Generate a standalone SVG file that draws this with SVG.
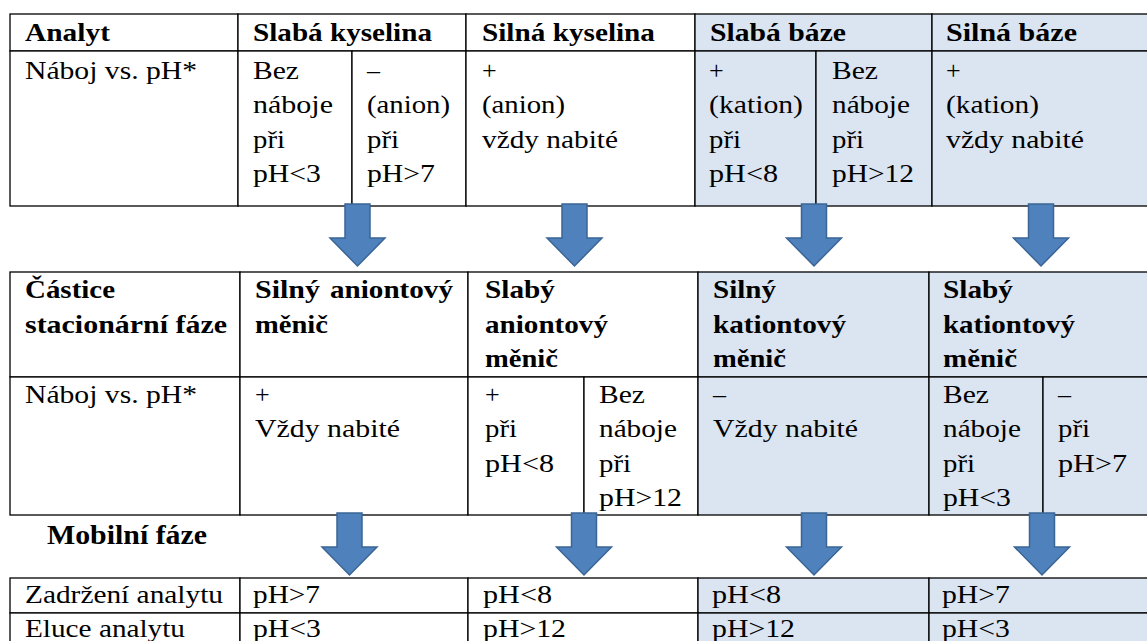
<svg xmlns="http://www.w3.org/2000/svg" xmlns:xlink="http://www.w3.org/1999/xlink" width="1147" height="641" viewBox="0 0 1147 641">
<style>
.w{fill:#ffffff;stroke:#000;stroke-width:1.3}
.b{fill:#DBE5F1;stroke:#000;stroke-width:1.3}
.tx text{font-family:"Liberation Serif","Tinos","Nimbus Roman","Noto Serif","DejaVu Serif","FreeSerif","Times New Roman",Times,serif;font-size:26px;fill:#000}
.tx text.h{font-weight:bold;font-size:25px}
.tx text.m{font-weight:bold;font-size:28px}
.arr{fill:#4F81BD;stroke:#3A6595;stroke-width:1.5}
</style>
<defs>
<path id="arrow" class="arr" d="M-12.5,0 H12.5 V34 H27.5 L0,62 L-27.5,34 H-12.5 Z"/>
</defs>
<rect width="1147" height="641" fill="#ffffff"/>
<g class="tx">

<!-- Table 1 -->
<g id="t1-analyt"><rect class="w" x="10" y="14" width="228" height="37"/><text class="h" x="25" y="41" textLength="85" lengthAdjust="spacingAndGlyphs">Analyt</text></g>
<g id="t1-slaba-kyselina"><rect class="w" x="238" y="14" width="228" height="37"/><text class="h" x="253" y="41" textLength="179" lengthAdjust="spacingAndGlyphs">Slabá kyselina</text></g>
<g id="t1-silna-kyselina"><rect class="w" x="466" y="14" width="229" height="37"/><text class="h" x="482" y="41" textLength="173" lengthAdjust="spacingAndGlyphs">Silná kyselina</text></g>
<g id="t1-slaba-baze"><rect class="b" x="695" y="14" width="237" height="37"/><text class="h" x="710" y="41" textLength="136" lengthAdjust="spacingAndGlyphs">Slabá báze</text></g>
<g id="t1-silna-baze"><rect class="b" x="932" y="14" width="220" height="37"/><text class="h" x="946" y="41" textLength="131" lengthAdjust="spacingAndGlyphs">Silná báze</text></g>

<g id="t1-naboj"><rect class="w" x="10" y="51" width="228" height="155"/><text x="25" y="79" textLength="172" lengthAdjust="spacingAndGlyphs">Náboj vs. pH*</text></g>
<g id="t1-c1"><rect class="w" x="238" y="51" width="114" height="155"/>
<text x="253" y="79" textLength="46" lengthAdjust="spacingAndGlyphs">Bez</text>
<text x="253" y="113" textLength="80" lengthAdjust="spacingAndGlyphs">náboje</text>
<text x="253" y="148" textLength="32" lengthAdjust="spacingAndGlyphs">při</text>
<text x="253" y="182" textLength="68" lengthAdjust="spacingAndGlyphs">pH&lt;3</text></g>
<g id="t1-c2"><rect class="w" x="352" y="51" width="114" height="155"/>
<text x="367" y="79">–</text>
<text x="367" y="113" textLength="83" lengthAdjust="spacingAndGlyphs">(anion)</text>
<text x="367" y="148" textLength="32" lengthAdjust="spacingAndGlyphs">při</text>
<text x="367" y="182" textLength="68" lengthAdjust="spacingAndGlyphs">pH&gt;7</text></g>
<g id="t1-c3"><rect class="w" x="466" y="51" width="229" height="155"/>
<text x="482" y="79">+</text>
<text x="482" y="113" textLength="83" lengthAdjust="spacingAndGlyphs">(anion)</text>
<text x="482" y="148" textLength="136" lengthAdjust="spacingAndGlyphs">vždy nabité</text></g>
<g id="t1-c4"><rect class="b" x="695" y="51" width="121" height="155"/>
<text x="709" y="79">+</text>
<text x="709" y="113" textLength="94" lengthAdjust="spacingAndGlyphs">(kation)</text>
<text x="709" y="148" textLength="32" lengthAdjust="spacingAndGlyphs">při</text>
<text x="709" y="182" textLength="69" lengthAdjust="spacingAndGlyphs">pH&lt;8</text></g>
<g id="t1-c5"><rect class="b" x="816" y="51" width="116" height="155"/>
<text x="832" y="79" textLength="46" lengthAdjust="spacingAndGlyphs">Bez</text>
<text x="832" y="113" textLength="78" lengthAdjust="spacingAndGlyphs">náboje</text>
<text x="832" y="148" textLength="32" lengthAdjust="spacingAndGlyphs">při</text>
<text x="832" y="182" textLength="82" lengthAdjust="spacingAndGlyphs">pH&gt;12</text></g>
<g id="t1-c6"><rect class="b" x="932" y="51" width="220" height="155"/>
<text x="946" y="79">+</text>
<text x="946" y="113" textLength="93" lengthAdjust="spacingAndGlyphs">(kation)</text>
<text x="946" y="148" textLength="138" lengthAdjust="spacingAndGlyphs">vždy nabité</text></g>

<!-- Table 2 -->
<g id="t2-castice"><rect class="w" x="10" y="272" width="230" height="105"/>
<text class="h" x="25" y="298" textLength="90" lengthAdjust="spacingAndGlyphs">Částice</text>
<text class="h" x="25" y="333" textLength="202" lengthAdjust="spacingAndGlyphs">stacionární fáze</text></g>
<g id="t2-silny-aniontovy"><rect class="w" x="240" y="272" width="228" height="105"/>
<text class="h" x="255" y="298" textLength="65" lengthAdjust="spacingAndGlyphs">Silný</text>
<text class="h" x="330" y="298" textLength="123" lengthAdjust="spacingAndGlyphs">aniontový</text>
<text class="h" x="255" y="333" textLength="73" lengthAdjust="spacingAndGlyphs">měnič</text></g>
<g id="t2-slaby-aniontovy"><rect class="w" x="468" y="272" width="230" height="105"/>
<text class="h" x="485" y="298" textLength="70" lengthAdjust="spacingAndGlyphs">Slabý</text>
<text class="h" x="485" y="333" textLength="123" lengthAdjust="spacingAndGlyphs">aniontový</text>
<text class="h" x="485" y="367" textLength="73" lengthAdjust="spacingAndGlyphs">měnič</text></g>
<g id="t2-silny-kationtovy"><rect class="b" x="698" y="272" width="231" height="105"/>
<text class="h" x="713" y="298" textLength="63" lengthAdjust="spacingAndGlyphs">Silný</text>
<text class="h" x="713" y="333" textLength="133" lengthAdjust="spacingAndGlyphs">kationtový</text>
<text class="h" x="713" y="367" textLength="73" lengthAdjust="spacingAndGlyphs">měnič</text></g>
<g id="t2-slaby-kationtovy"><rect class="b" x="929" y="272" width="223" height="105"/>
<text class="h" x="943" y="298" textLength="70" lengthAdjust="spacingAndGlyphs">Slabý</text>
<text class="h" x="943" y="333" textLength="132" lengthAdjust="spacingAndGlyphs">kationtový</text>
<text class="h" x="943" y="367" textLength="74" lengthAdjust="spacingAndGlyphs">měnič</text></g>

<g id="t2-naboj"><rect class="w" x="10" y="377" width="230" height="138"/><text x="25" y="403" textLength="172" lengthAdjust="spacingAndGlyphs">Náboj vs. pH*</text></g>
<g id="t2-c1"><rect class="w" x="240" y="377" width="228" height="138"/>
<text x="255" y="403">+</text>
<text x="255" y="437" textLength="145" lengthAdjust="spacingAndGlyphs">Vždy nabité</text></g>
<g id="t2-c2"><rect class="w" x="468" y="377" width="116" height="138"/>
<text x="485" y="403">+</text>
<text x="485" y="437" textLength="32" lengthAdjust="spacingAndGlyphs">při</text>
<text x="485" y="472" textLength="69" lengthAdjust="spacingAndGlyphs">pH&lt;8</text></g>
<g id="t2-c3"><rect class="w" x="584" y="377" width="114" height="138"/>
<text x="599" y="403" textLength="46" lengthAdjust="spacingAndGlyphs">Bez</text>
<text x="599" y="437" textLength="78" lengthAdjust="spacingAndGlyphs">náboje</text>
<text x="599" y="472" textLength="32" lengthAdjust="spacingAndGlyphs">při</text>
<text x="599" y="506" textLength="83" lengthAdjust="spacingAndGlyphs">pH&gt;12</text></g>
<g id="t2-c4"><rect class="b" x="698" y="377" width="231" height="138"/>
<text x="713" y="403">–</text>
<text x="713" y="437" textLength="145" lengthAdjust="spacingAndGlyphs">Vždy nabité</text></g>
<g id="t2-c5"><rect class="b" x="929" y="377" width="114" height="138"/>
<text x="943" y="403" textLength="46" lengthAdjust="spacingAndGlyphs">Bez</text>
<text x="943" y="437" textLength="78" lengthAdjust="spacingAndGlyphs">náboje</text>
<text x="943" y="472" textLength="32" lengthAdjust="spacingAndGlyphs">při</text>
<text x="943" y="506" textLength="68" lengthAdjust="spacingAndGlyphs">pH&lt;3</text></g>
<g id="t2-c6"><rect class="b" x="1043" y="377" width="109" height="138"/>
<text x="1058" y="403">–</text>
<text x="1058" y="437" textLength="32" lengthAdjust="spacingAndGlyphs">při</text>
<text x="1058" y="472" textLength="69" lengthAdjust="spacingAndGlyphs">pH&gt;7</text></g>

<g id="mobilni-faze"><text class="m" x="47" y="544" textLength="160" lengthAdjust="spacingAndGlyphs">Mobilní fáze</text></g>

<!-- Table 3 -->
<g id="t3-zadrzeni"><rect class="w" x="10" y="578" width="230" height="35"/><text x="25" y="603" textLength="198" lengthAdjust="spacingAndGlyphs">Zadržení analytu</text></g>
<g id="t3-r1c1"><rect class="w" x="240" y="578" width="228" height="35"/><text x="253" y="603" textLength="67" lengthAdjust="spacingAndGlyphs">pH&gt;7</text></g>
<g id="t3-r1c2"><rect class="w" x="468" y="578" width="230" height="35"/><text x="483" y="603" textLength="69" lengthAdjust="spacingAndGlyphs">pH&lt;8</text></g>
<g id="t3-r1c3"><rect class="b" x="698" y="578" width="231" height="35"/><text x="712" y="603" textLength="69" lengthAdjust="spacingAndGlyphs">pH&lt;8</text></g>
<g id="t3-r1c4"><rect class="b" x="929" y="578" width="223" height="35"/><text x="942" y="603" textLength="68" lengthAdjust="spacingAndGlyphs">pH&gt;7</text></g>
<g id="t3-eluce"><rect class="w" x="10" y="613" width="230" height="35"/><text x="25" y="637" textLength="160" lengthAdjust="spacingAndGlyphs">Eluce analytu</text></g>
<g id="t3-r2c1"><rect class="w" x="240" y="613" width="228" height="35"/><text x="253" y="637" textLength="68" lengthAdjust="spacingAndGlyphs">pH&lt;3</text></g>
<g id="t3-r2c2"><rect class="w" x="468" y="613" width="230" height="35"/><text x="483" y="637" textLength="83" lengthAdjust="spacingAndGlyphs">pH&gt;12</text></g>
<g id="t3-r2c3"><rect class="b" x="698" y="613" width="231" height="35"/><text x="712" y="637" textLength="83" lengthAdjust="spacingAndGlyphs">pH&gt;12</text></g>
<g id="t3-r2c4"><rect class="b" x="929" y="613" width="223" height="35"/><text x="942" y="637" textLength="68" lengthAdjust="spacingAndGlyphs">pH&lt;3</text></g>
</g>

<!-- Connectors -->
<g id="connectors">
<use xlink:href="#arrow" transform="translate(357.5,204)"/>
<use xlink:href="#arrow" transform="translate(574.5,204)"/>
<use xlink:href="#arrow" transform="translate(814,204)"/>
<use xlink:href="#arrow" transform="translate(1041,204)"/>
<use xlink:href="#arrow" transform="translate(349.5,513)"/>
<use xlink:href="#arrow" transform="translate(584,513)"/>
<use xlink:href="#arrow" transform="translate(814,513)"/>
<use xlink:href="#arrow" transform="translate(1042,513)"/>
</g>
</svg>
